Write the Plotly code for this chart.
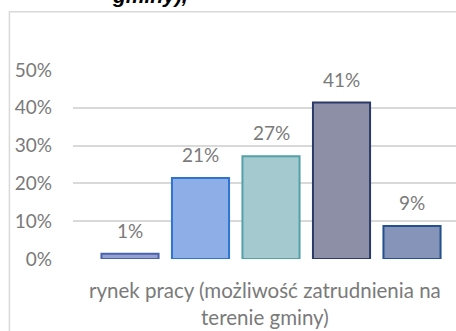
import plotly.graph_objects as go

# Survey shares for "rynek pracy" answer options
options = ["opcja 1", "opcja 2", "opcja 3", "opcja 4", "opcja 5"]
shares = [0.014, 0.214, 0.272, 0.414, 0.087]
fill_colors = ["#95a1d0", "#8daee6", "#a4cacf", "#8c8fa5", "#8594b8"]
edge_colors = ["#4a63ad", "#2f74cf", "#52a0a8", "#2b3a68", "#24508e"]
category_label = "rynek pracy (możliwość zatrudnienia na<br>terenie gminy)"
title_tail = "gminy),"
y_ticks = [0, 0.1, 0.2, 0.3, 0.4, 0.5]

FONT = "Lato"
GRAY = "#7a7a7a"

positions = list(range(len(options)))

fig = go.Figure()
for i, (name, val) in enumerate(zip(options, shares)):
    fig.add_trace(go.Bar(
        x=[positions[i]], y=[val], name=name,
        width=0.81,
        marker=dict(color=fill_colors[i], line=dict(color=edge_colors[i], width=2)),
        hoverinfo="skip",
    ))

# value labels above each bar
for i, val in enumerate(shares):
    fig.add_annotation(
        x=positions[i], y=val, xref="x", yref="y",
        text=f"{val:.0%}", showarrow=False,
        yanchor="bottom", yshift=10,
        font=dict(family=FONT, size=19, color=GRAY),
    )

# category label under the group
fig.add_annotation(
    x=1.92, y=-0.09, xref="x", yref="paper",
    text=category_label, showarrow=False,
    yanchor="top", align="center",
    font=dict(family=FONT, size=20.5, color=GRAY),
)

# tail of the chart title (runs off the top edge)
fig.add_annotation(
    x=0.305, y=1.325, xref="paper", yref="paper",
    text=f"<b><i>{title_tail}</i></b>", showarrow=False,
    xanchor="right", yanchor="bottom",
    font=dict(family="Liberation Sans", size=21, color="#000000"),
)

# outer chart frame
fig.add_shape(
    type="rect", xref="paper", yref="paper",
    x0=-0.166, y0=-0.6, x1=1.2, y1=1.308,
    line=dict(color="#d9d9d9", width=1.5), fillcolor="rgba(0,0,0,0)",
    layer="below",
)

fig.update_layout(
    width=456, height=331, autosize=False,
    margin=dict(l=73, r=0, t=70, b=72),
    paper_bgcolor="white", plot_bgcolor="white",
    showlegend=False, barmode="overlay",
    xaxis=dict(range=[-0.8085, 4.624], showticklabels=False, showgrid=False,
               zeroline=False, showline=False, ticks=""),
    yaxis=dict(range=[0, 0.5], tickvals=y_ticks, tickformat=".0%",
               showgrid=True, gridcolor="#d9d9d9", gridwidth=1.5,
               zeroline=False, showline=False, ticks="",
               ticklabelstandoff=20,
               tickfont=dict(family=FONT, size=19, color=GRAY)),
)

fig.write_html("out.html")
